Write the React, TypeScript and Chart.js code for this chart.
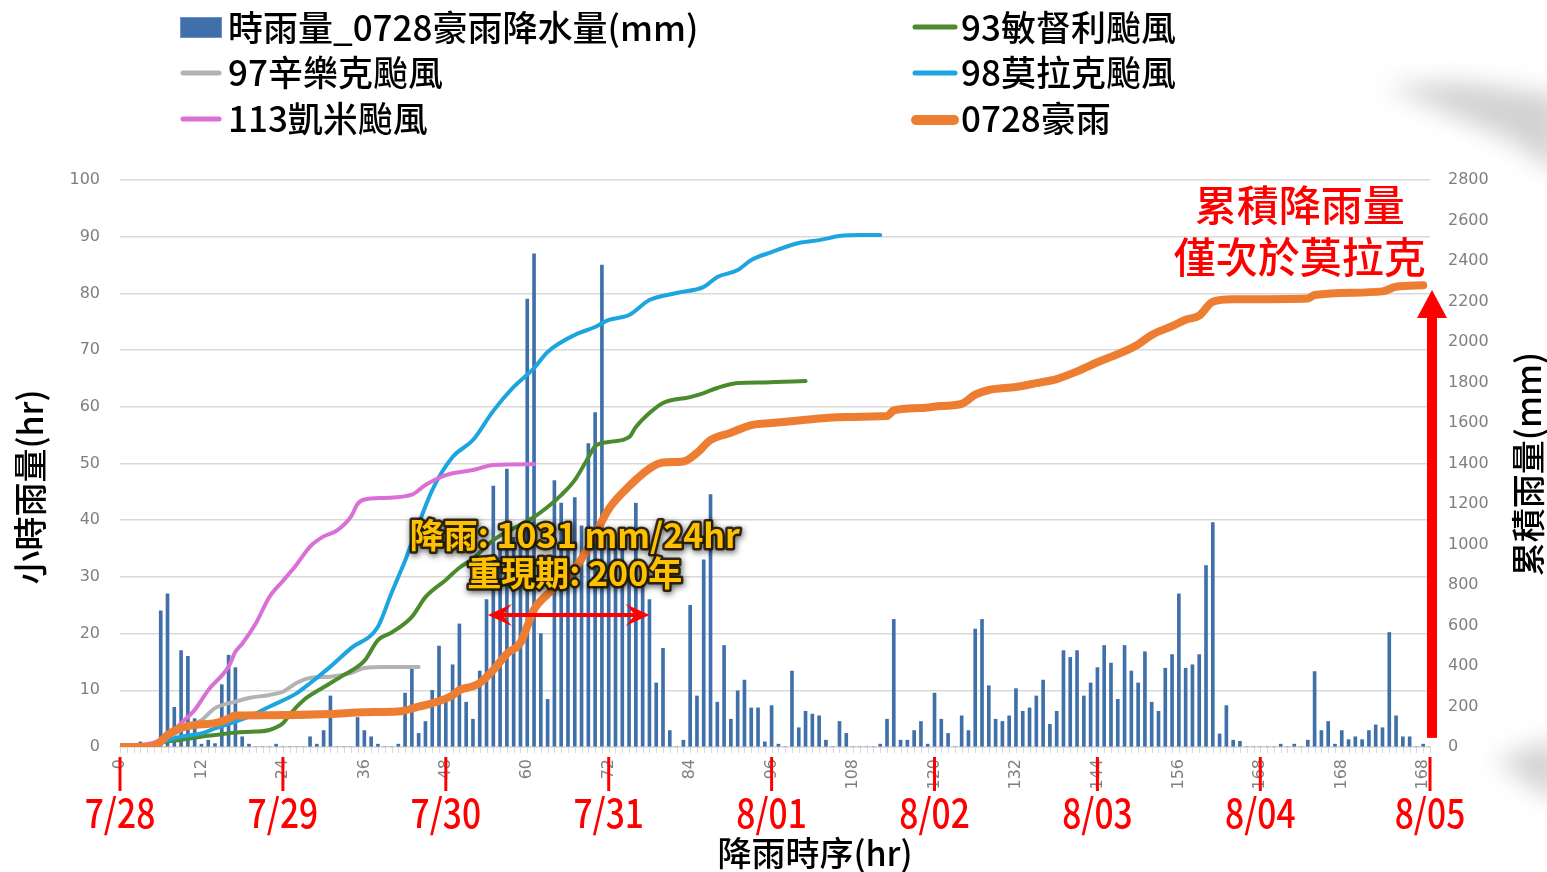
import React, { useEffect, useRef } from "react";
import { Chart, registerables } from "chart.js";

Chart.register(...registerables);

// ---------------- data ----------------
const HOURS = Array.from({ length: 194 }, (_, i) => i);

// hourly rainfall of the 0728 heavy rain (mm), hours 0..193
const HOURLY_RAIN = [
  0, 0, 0.5, 0.9, 0.5, 0.5, 24, 27, 7, 17, 16, 5,
  0.5, 1.2, 0.6, 11, 16.2, 14, 1.8, 0.5, 0, 0, 0, 0.5,
  0, 0, 0, 0, 1.8, 0.5, 2.9, 9, 0, 0, 0, 5.2,
  2.9, 1.8, 0.5, 0, 0, 0.5, 9.5, 14.3, 2.4, 4.5, 10, 17.8,
  8.3, 14.5, 21.7, 7.9, 4.9, 13.4, 26, 46, 35, 49, 37, 38,
  79, 87, 20, 8.4, 47, 43, 35, 44, 39, 53.5, 59, 85,
  35, 36, 38, 30, 43, 30, 26, 11.3, 17.4, 2.9, 0, 1.2,
  25, 9, 33, 44.5, 7.9, 17.9, 4.9, 9.9, 11.8, 6.9, 6.9, 0.9,
  7.3, 0.5, 0, 13.4, 3.4, 6.3, 5.8, 5.5, 1.2, 0, 4.5, 2.4,
  0, 0, 0, 0, 0.5, 4.9, 22.5, 1.2, 1.2, 2.9, 4.5, 0.5,
  9.5, 4.9, 2.4, 0, 5.5, 2.9, 20.8, 22.5, 10.8, 4.9, 4.5, 5.5,
  10.3, 6.3, 6.9, 9, 11.8, 4, 6.3, 17, 15.8, 17, 9, 11.3,
  14, 17.9, 14.8, 8.4, 17.9, 13.4, 11.3, 16.8, 7.9, 6.3, 13.9, 16.3,
  27, 13.9, 14.5, 16.3, 32, 39.6, 2.3, 7.3, 1.2, 1, 0, 0,
  0, 0, 0, 0.5, 0, 0.5, 0, 1.2, 13.3, 2.9, 4.5, 0.5,
  2.9, 1.3, 1.8, 1.3, 2.9, 3.9, 3.4, 20.2, 5.5, 1.8, 1.8, 0,
  0.5, 0,
];

// cumulative rainfall curves (mm), read at selected hours
const RAIN0728_HOURS = [0, 5, 6, 7, 9, 12, 14, 16, 17, 22, 31, 36, 41, 44, 46, 49, 50, 52, 53, 55, 57, 59, 60, 61, 63, 67, 69, 72, 74, 78, 80, 83, 85, 87, 90, 93, 96, 100, 104, 107, 113, 114, 118, 121, 124, 126, 128, 132, 135, 138, 141, 144, 147, 150, 152, 155, 157, 159, 161, 164, 175, 176, 186, 188, 192];
const RAIN0728_MM = [0, 3, 28, 60, 95, 112, 118, 140, 155, 157, 163, 172, 175, 199, 216, 255, 281, 300, 316, 380, 460, 515, 595, 680, 755, 880, 985, 1175, 1254, 1375, 1405, 1410, 1452, 1516, 1552, 1590, 1600, 1612, 1625, 1630, 1634, 1662, 1674, 1684, 1694, 1740, 1763, 1778, 1797, 1817, 1855, 1900, 1940, 1988, 2035, 2078, 2110, 2130, 2199, 2211, 2215, 2232, 2250, 2273, 2280];

const MINDULLE_HOURS = [0, 5, 6, 9, 12, 14, 17, 20, 22, 24, 25, 27, 30, 33, 36, 38, 40, 43, 45, 48, 50, 52, 55, 58, 61, 63, 65, 67, 69, 70, 72, 75, 76, 78, 80, 84, 86, 88, 91, 95, 101];
const MINDULLE_MM = [0, 0, 20, 35, 51, 59, 71, 76, 84, 117, 160, 230, 295, 356, 425, 528, 565, 643, 740, 825, 885, 930, 1022, 1080, 1136, 1185, 1244, 1318, 1430, 1485, 1506, 1530, 1580, 1649, 1699, 1728, 1748, 1773, 1797, 1800, 1807];

const MORAKOT_HOURS = [0, 5, 6, 9, 12, 14, 19, 22, 26, 28, 31, 34, 38, 40, 41, 42, 43, 46, 49, 52, 55, 58, 61, 63, 67, 70, 72, 75, 78, 82, 86, 88, 91, 93, 96, 100, 103, 106, 109, 112];
const MORAKOT_MM = [0, 0, 20, 51, 67, 92, 150, 199, 265, 315, 397, 487, 594, 760, 840, 920, 1010, 1269, 1432, 1516, 1660, 1778, 1871, 1951, 2035, 2074, 2109, 2133, 2207, 2242, 2272, 2321, 2355, 2405, 2444, 2489, 2503, 2523, 2528, 2528];

const GAEMI_HOURS = [0, 3, 5, 7, 9, 11, 13, 16, 17, 18, 20, 22, 24, 26, 28, 30, 32, 34, 35, 36, 39, 43, 45, 48, 52, 55, 61];
const GAEMI_MM = [0, 10, 22, 51, 118, 183, 281, 397, 470, 510, 610, 740, 820, 900, 990, 1040, 1070, 1136, 1200, 1222, 1230, 1246, 1294, 1343, 1368, 1393, 1397];

const SINLAKU_HOURS = [0, 5, 6, 9, 12, 14, 17, 19, 22, 24, 26, 28, 31, 34, 36, 39, 44];
const SINLAKU_MM = [0, 0, 15, 84, 133, 192, 224, 242, 257, 273, 316, 341, 347, 365, 390, 395, 395];

const X_TICK_VALUES = [0, 12, 24, 36, 48, 60, 72, 84, 96, 108, 120, 132, 144, 156, 168, 180, 192];
const X_TICK_LABELS = ["0", "12", "24", "36", "48", "60", "72", "84", "96", "108", "120", "132", "144", "156", "168", "168", "168"];

const DAY_HOURS = [0, 24, 48, 72, 96, 120, 144, 168, 193];
const DAY_LABELS = ["7/28", "7/29", "7/30", "7/31", "8/01", "8/02", "8/03", "8/04", "8/05"];

const NAME_BAR = "時雨量_0728豪雨降水量(mm)";
const NAME_SINLAKU = "97辛樂克颱風";
const NAME_GAEMI = "113凱米颱風";
const NAME_MINDULLE = "93敏督利颱風";
const NAME_MORAKOT = "98莫拉克颱風";
const NAME_0728 = "0728豪雨";

const TITLE_LEFT = "小時雨量(hr)";
const TITLE_RIGHT = "累積雨量(mm)";
const TITLE_X = "降雨時序(hr)";
const NOTE_1 = "降雨: 1031 mm/24hr";
const NOTE_2 = "重現期: 200年";
const RED_NOTE_1 = "累積降雨量";
const RED_NOTE_2 = "僅次於莫拉克";

// ---------------- styles ----------------
const C_BAR = "#3f70aa";
const C_ORANGE = "#ED7D31";
const C_GREEN = "#4C8A2E";
const C_BLUE = "#1CA5DF";
const C_PINK = "#DA70D6";
const C_GRAY = "#B3B3B3";
const CJK = '"Noto Sans CJK TC", "Noto Sans CJK SC", sans-serif';
const TICK_FONT = { family: "DejaVu Sans", size: 16 };
const TICK_COLOR = "#7f7f7f";

function pts(hs: number[], vs: number[]) {
  return hs.map((h, i) => ({ x: h, y: vs[i] }));
}

function drawText(ctx: CanvasRenderingContext2D, s: string, x: number, y: number, font: string, color: string, align: CanvasTextAlign = "center", sx = 1, rot = 0) {
  ctx.save();
  ctx.translate(x, y);
  if (rot) ctx.rotate(rot);
  ctx.scale(sx, 1);
  ctx.font = font;
  ctx.fillStyle = color;
  ctx.textAlign = align;
  ctx.textBaseline = "middle";
  ctx.fillText(s, 0, 0);
  ctx.restore();
}

function arrowHead(ctx: CanvasRenderingContext2D, tx: number, ty: number, dx: number, dy: number, len: number, half: number) {
  const nx = -dy, ny = dx;
  ctx.beginPath();
  ctx.moveTo(tx, ty);
  ctx.lineTo(tx - dx * len + nx * half, ty - dy * len + ny * half);
  ctx.lineTo(tx - dx * len * 0.6, ty - dy * len * 0.6);
  ctx.lineTo(tx - dx * len - nx * half, ty - dy * len - ny * half);
  ctx.closePath();
  ctx.fill();
}

const decorPlugin = {
  id: "decor",
  beforeDraw(chart: any) {
    const ctx: CanvasRenderingContext2D = chart.ctx;
    ctx.save();
    ctx.filter = "blur(12px)";
    ctx.fillStyle = "rgba(195,195,195,0.75)";
    ctx.beginPath();
    ctx.moveTo(1385, 86);
    ctx.lineTo(1460, 82);
    ctx.lineTo(1560, 95);
    ctx.lineTo(1560, 175);
    ctx.lineTo(1510, 140);
    ctx.closePath();
    ctx.fill();
    ctx.beginPath();
    ctx.moveTo(1495, 760);
    ctx.lineTo(1560, 738);
    ctx.lineTo(1560, 805);
    ctx.closePath();
    ctx.fill();
    ctx.restore();

    // minor tick marks for every hour
    const xs = chart.scales.x;
    const base = chart.chartArea.bottom;
    ctx.save();
    ctx.strokeStyle = "#d9d9d9";
    ctx.lineWidth = 1;
    HOURS.forEach((h) => {
      const px = Math.round(xs.getPixelForValue(h)) + 0.5;
      ctx.beginPath();
      ctx.moveTo(px, base);
      ctx.lineTo(px, base + 6);
      ctx.stroke();
    });
    ctx.restore();
  },
  afterDraw(chart: any) {
    const ctx: CanvasRenderingContext2D = chart.ctx;
    const xs = chart.scales.x;
    const ys = chart.scales.y;
    const ys1 = chart.scales.y1;

    // ----- legend -----
    const legendFont = `500 35px ${CJK}`;
    ctx.save();
    ctx.fillStyle = C_BAR;
    ctx.fillRect(180, 17, 42, 21);
    ctx.strokeStyle = "#6d93c4";
    ctx.lineWidth = 1;
    ctx.strokeRect(180.5, 17.5, 41, 20);
    ctx.lineCap = "round";
    const lineSw = (x1: number, x2: number, y: number, c: string, w: number) => {
      ctx.strokeStyle = c;
      ctx.lineWidth = w;
      ctx.beginPath();
      ctx.moveTo(x1, y);
      ctx.lineTo(x2, y);
      ctx.stroke();
    };
    lineSw(183, 219, 73, C_GRAY, 5);
    lineSw(183, 219, 119, C_PINK, 5);
    lineSw(915, 955, 27, C_GREEN, 5);
    lineSw(915, 955, 73, C_BLUE, 5);
    lineSw(916, 954, 120, C_ORANGE, 10);
    ctx.restore();
    drawText(ctx, NAME_BAR, 228, 28, legendFont, "#000", "left");
    drawText(ctx, NAME_SINLAKU, 228, 73, legendFont, "#000", "left");
    drawText(ctx, NAME_GAEMI, 228, 119, legendFont, "#000", "left");
    drawText(ctx, NAME_MINDULLE, 961, 28, legendFont, "#000", "left");
    drawText(ctx, NAME_MORAKOT, 961, 73, legendFont, "#000", "left");
    drawText(ctx, NAME_0728, 961, 119, legendFont, "#000", "left");

    // ----- axis titles -----
    const titleFont = `500 34px ${CJK}`;
    drawText(ctx, TITLE_LEFT, 30, 487, titleFont, "#000", "center", 1, -Math.PI / 2);
    drawText(ctx, TITLE_RIGHT, 1528, 464, titleFont, "#000", "center", 1, -Math.PI / 2);
    drawText(ctx, TITLE_X, 815, 853, titleFont, "#000", "center");

    // ----- day markers -----
    ctx.save();
    ctx.strokeStyle = "#ff0000";
    ctx.lineWidth = 3;
    DAY_HOURS.forEach((h, i) => {
      const px = xs.getPixelForValue(h);
      ctx.beginPath();
      ctx.moveTo(px, 757);
      ctx.lineTo(px, 791);
      ctx.stroke();
      drawText(ctx, DAY_LABELS[i], px, 813, `500 40px ${CJK}`, "#ff0000", "center", 0.84);
    });
    ctx.restore();

    // ----- yellow annotation -----
    const noteX = xs.getPixelForValue(67);
    [[NOTE_1, 37.4], [NOTE_2, 30.6]].forEach(([s, v]) => {
      const y = ys.getPixelForValue(v as number);
      ctx.save();
      ctx.font = `bold 34px ${CJK}`;
      ctx.textAlign = "center";
      ctx.textBaseline = "middle";
      ctx.lineJoin = "round";
      ctx.shadowColor = "rgba(0,0,0,0.7)";
      ctx.shadowBlur = 6;
      ctx.shadowOffsetX = 1;
      ctx.shadowOffsetY = 2;
      ctx.strokeStyle = "rgba(30,22,0,0.9)";
      ctx.lineWidth = 5;
      ctx.strokeText(s as string, noteX, y);
      ctx.shadowColor = "transparent";
      ctx.fillStyle = "#FFC000";
      ctx.fillText(s as string, noteX, y);
      ctx.restore();
    });

    // ----- double arrow (24 hr window) -----
    const ay = ys.getPixelForValue(23.3);
    const ax1 = xs.getPixelForValue(54.2);
    const ax2 = xs.getPixelForValue(78);
    ctx.save();
    ctx.strokeStyle = "#ff0000";
    ctx.fillStyle = "#ff0000";
    ctx.lineWidth = 4;
    ctx.beginPath();
    ctx.moveTo(ax1 + 12, ay);
    ctx.lineTo(ax2 - 12, ay);
    ctx.stroke();
    arrowHead(ctx, ax1, ay, -1, 0, 24, 11);
    arrowHead(ctx, ax2, ay, 1, 0, 24, 11);
    ctx.restore();

    // ----- vertical up arrow -----
    const ux = chart.chartArea.right + 2;
    const uyBottom = ys1.getPixelForValue(45);
    const uyTip = ys1.getPixelForValue(2257);
    ctx.save();
    ctx.fillStyle = "#ff0000";
    ctx.fillRect(ux - 5, uyTip + 26, 10, uyBottom - uyTip - 26);
    ctx.beginPath();
    ctx.moveTo(ux, uyTip);
    ctx.lineTo(ux + 15, uyTip + 28);
    ctx.lineTo(ux - 15, uyTip + 28);
    ctx.closePath();
    ctx.fill();
    ctx.restore();

    // ----- red note -----
    const rx = xs.getPixelForValue(173.8);
    drawText(ctx, RED_NOTE_1, rx, ys1.getPixelForValue(2676), `500 42px ${CJK}`, "#ff0000", "center");
    drawText(ctx, RED_NOTE_2, rx, ys1.getPixelForValue(2420), `500 42px ${CJK}`, "#ff0000", "center");
  },
};

export default function App() {
  const ref = useRef<HTMLCanvasElement | null>(null);

  useEffect(() => {
    if (!ref.current) return;
    const lineBase = {
      type: "line" as const,
      yAxisID: "y1",
      xAxisID: "x",
      pointRadius: 0,
      borderCapStyle: "round" as const,
      borderJoinStyle: "round" as const,
      cubicInterpolationMode: "monotone" as const,
      fill: false,
    };
    const chart = new Chart(ref.current, {
      type: "bar",
      data: {
        datasets: [
          { ...lineBase, label: NAME_0728, data: pts(RAIN0728_HOURS, RAIN0728_MM), borderColor: C_ORANGE, borderWidth: 8, order: 0 },
          { ...lineBase, label: NAME_GAEMI, data: pts(GAEMI_HOURS, GAEMI_MM), borderColor: C_PINK, borderWidth: 4, order: 1 },
          { ...lineBase, label: NAME_MORAKOT, data: pts(MORAKOT_HOURS, MORAKOT_MM), borderColor: C_BLUE, borderWidth: 4, order: 2 },
          { ...lineBase, label: NAME_MINDULLE, data: pts(MINDULLE_HOURS, MINDULLE_MM), borderColor: C_GREEN, borderWidth: 4, order: 3 },
          { ...lineBase, label: NAME_SINLAKU, data: pts(SINLAKU_HOURS, SINLAKU_MM), borderColor: C_GRAY, borderWidth: 4, order: 4 },
          {
            type: "bar",
            label: NAME_BAR,
            data: pts(HOURS, HOURLY_RAIN),
            yAxisID: "y",
            xAxisID: "x",
            backgroundColor: C_BAR,
            barThickness: 3,
            order: 10,
          } as any,
        ],
      },
      options: {
        responsive: false,
        animation: false,
        devicePixelRatio: 1,
        layout: { padding: { top: 180, left: 0, right: 0, bottom: 0 } },
        plugins: { legend: { display: false }, tooltip: { enabled: false } },
        scales: {
          x: {
            type: "linear",
            min: 0,
            max: 193,
            offset: false,
            grid: { display: false, drawTicks: false },
            border: { display: true, color: "#d9d9d9", width: 1.5 },
            afterBuildTicks: (s: any) => {
              s.ticks = X_TICK_VALUES.map((v) => ({ value: v }));
            },
            ticks: {
              autoSkip: false,
              minRotation: 90,
              maxRotation: 90,
              padding: 12,
              color: TICK_COLOR,
              font: TICK_FONT,
              callback: (v: any) => X_TICK_LABELS[X_TICK_VALUES.indexOf(Number(v))] ?? "",
            },
            afterFit: (s: any) => {
              s.height = 125;
            },
          },
          y: {
            position: "left",
            min: 0,
            max: 100,
            grid: { color: "#d9d9d9", lineWidth: 1.5, drawTicks: false },
            border: { display: false },
            ticks: { stepSize: 10, padding: 20, color: TICK_COLOR, font: TICK_FONT, callback: (v: any) => String(v) },
            afterFit: (s: any) => {
              s.width = 120;
            },
          },
          y1: {
            position: "right",
            min: 0,
            max: 2800,
            grid: { display: false, drawTicks: false },
            border: { display: false },
            ticks: { stepSize: 200, padding: 18, color: TICK_COLOR, font: TICK_FONT, callback: (v: any) => String(v) },
            afterFit: (s: any) => {
              s.width = 117;
            },
          },
        },
      } as any,
      plugins: [decorPlugin],
    });
    return () => chart.destroy();
  }, []);

  return (
    <div style={{ position: "absolute", left: 0, top: 0, width: 1547, height: 872, background: "#fff" }}>
      <canvas ref={ref} width={1547} height={872} style={{ display: "block", width: 1547, height: 872 }} />
    </div>
  );
}
